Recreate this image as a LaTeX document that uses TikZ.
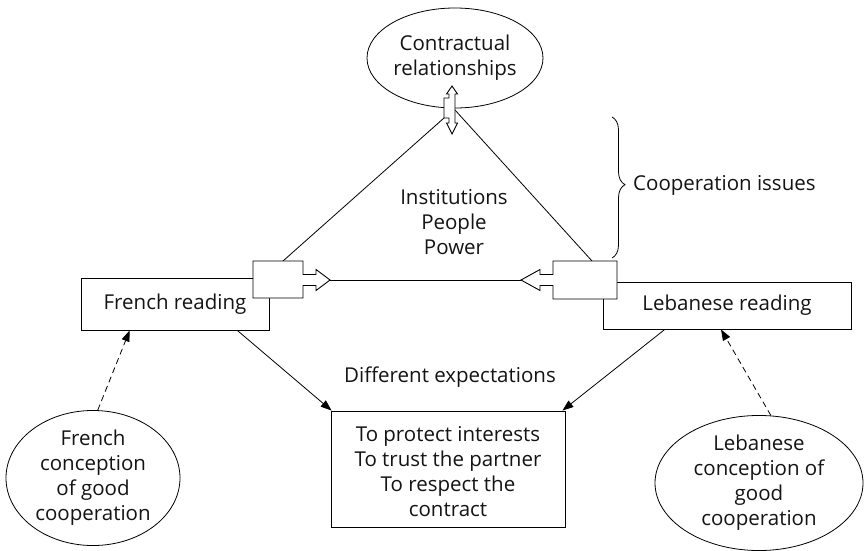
\documentclass[tikz,border=0pt]{standalone}
\usepackage{fontspec}
\setmainfont{Open Sans}
\usetikzlibrary{shapes.geometric,arrows.meta,calc,decorations.pathreplacing}

\begin{document}
\begin{tikzpicture}[x=1pt,y=-1pt,
  every node/.style={font=\fontsize{20.5}{25}\selectfont, text=black!92, inner sep=0pt, align=center},
  oval/.style={draw, ellipse, line width=0.8pt},
  boxnode/.style={draw, rectangle, line width=0.9pt, fill=white},
  port/.style={draw, fill=white, line width=0.9pt, line join=miter},
  link/.style={line width=0.8pt},
  arr/.style={line width=0.8pt, -{Triangle[length=11pt,width=8pt]}},
  darr/.style={arr, dash pattern=on 6pt off 4pt}]

\useasboundingbox (0,0) rectangle (864,551);

% main nodes
\node[oval, minimum width=176pt, minimum height=100pt] (cr) at (455,58) {Contractual\\relationships};
\node[boxnode, minimum width=188pt, minimum height=52pt] (fr) at (175,304) {French reading};
\node[boxnode, minimum width=248pt, minimum height=47pt] (lb) at (727,305.5) {Lebanese reading};
\node[boxnode, minimum width=234pt, minimum height=116pt] (ex) at (448,469) {};
\node (extext) at (448,472) {To protect interests\\To trust the partner\\To respect the\\contract};
\node[oval, minimum width=174pt, minimum height=130pt] (fe) at (93,478)
  {French\\conception\\of good\\cooperation};
\node[oval, minimum width=208pt, minimum height=134pt] (le) at (759,483)
  {Lebanese\\conception of\\good\\cooperation};

% free texts
\node (themes) at (454,222) {Institutions\\People\\Power};
\node (diff) at (450,377) {Different expectations};
\node[anchor=west] (issues) at (633,185) {Cooperation issues};

% connector end points on the small ports
\coordinate (frtop) at (283,261);
\coordinate (lbtop) at (592,261);
\coordinate (frtip) at (330,280);
\coordinate (lbtip) at (521,280);
\coordinate (hubl) at (444,118);
\coordinate (hubr) at (455,110);

% triangle of relations
\draw[link] (frtop) -- (hubl);
\draw[link] (lbtop) -- (hubr);
\draw[link] (frtip) -- (lbtip);

% port on the French side, arrow pointing right
\draw[port] (253,261) -- (303,261) -- (303,274.5) -- (316,274.5) -- (316,269.5)
  -- (frtip) -- (316,290.5) -- (316,285.5) -- (303,285.5) -- (303,298) -- (253,298) -- cycle;
% port on the Lebanese side, arrow pointing left
\draw[port] (617,261) -- (553,261) -- (553,274.5) -- (540,274.5) -- (540,269.5)
  -- (lbtip) -- (540,290.5) -- (540,285.5) -- (553,285.5) -- (553,299) -- (617,299) -- cycle;
% double arrow under the contractual relationships
\draw[port] (452,86) -- (457.5,94) -- (455,94) -- (455,123) -- (457.5,123) -- (452,134)
  -- (446.5,123) -- (449,123) -- (449,118) -- (444,118) -- (444,98) -- (449,98)
  -- (449,94) -- (446.5,94) -- cycle;

% expectations
\draw[arr] ($(fr.south west)!0.83!(fr.south east)$) -- ($(ex.north west)+(1,0)$);
\draw[arr] ($(lb.south west)!0.25!(lb.south east)$) -- ($(ex.north east)+(-3,0)$);

% conceptions feeding the readings
\draw[darr] (fe.86) -- ($(fr.south west)!0.26!(fr.south east)$);
\draw[darr] (le.80) -- ($(lb.south west)!0.476!(lb.south east)$);

% brace grouping the issues
\draw[line width=0.8pt, decorate, decoration={brace, amplitude=13pt, aspect=0.48}] (612,117) -- (612,258);
\end{tikzpicture}
\end{document}
